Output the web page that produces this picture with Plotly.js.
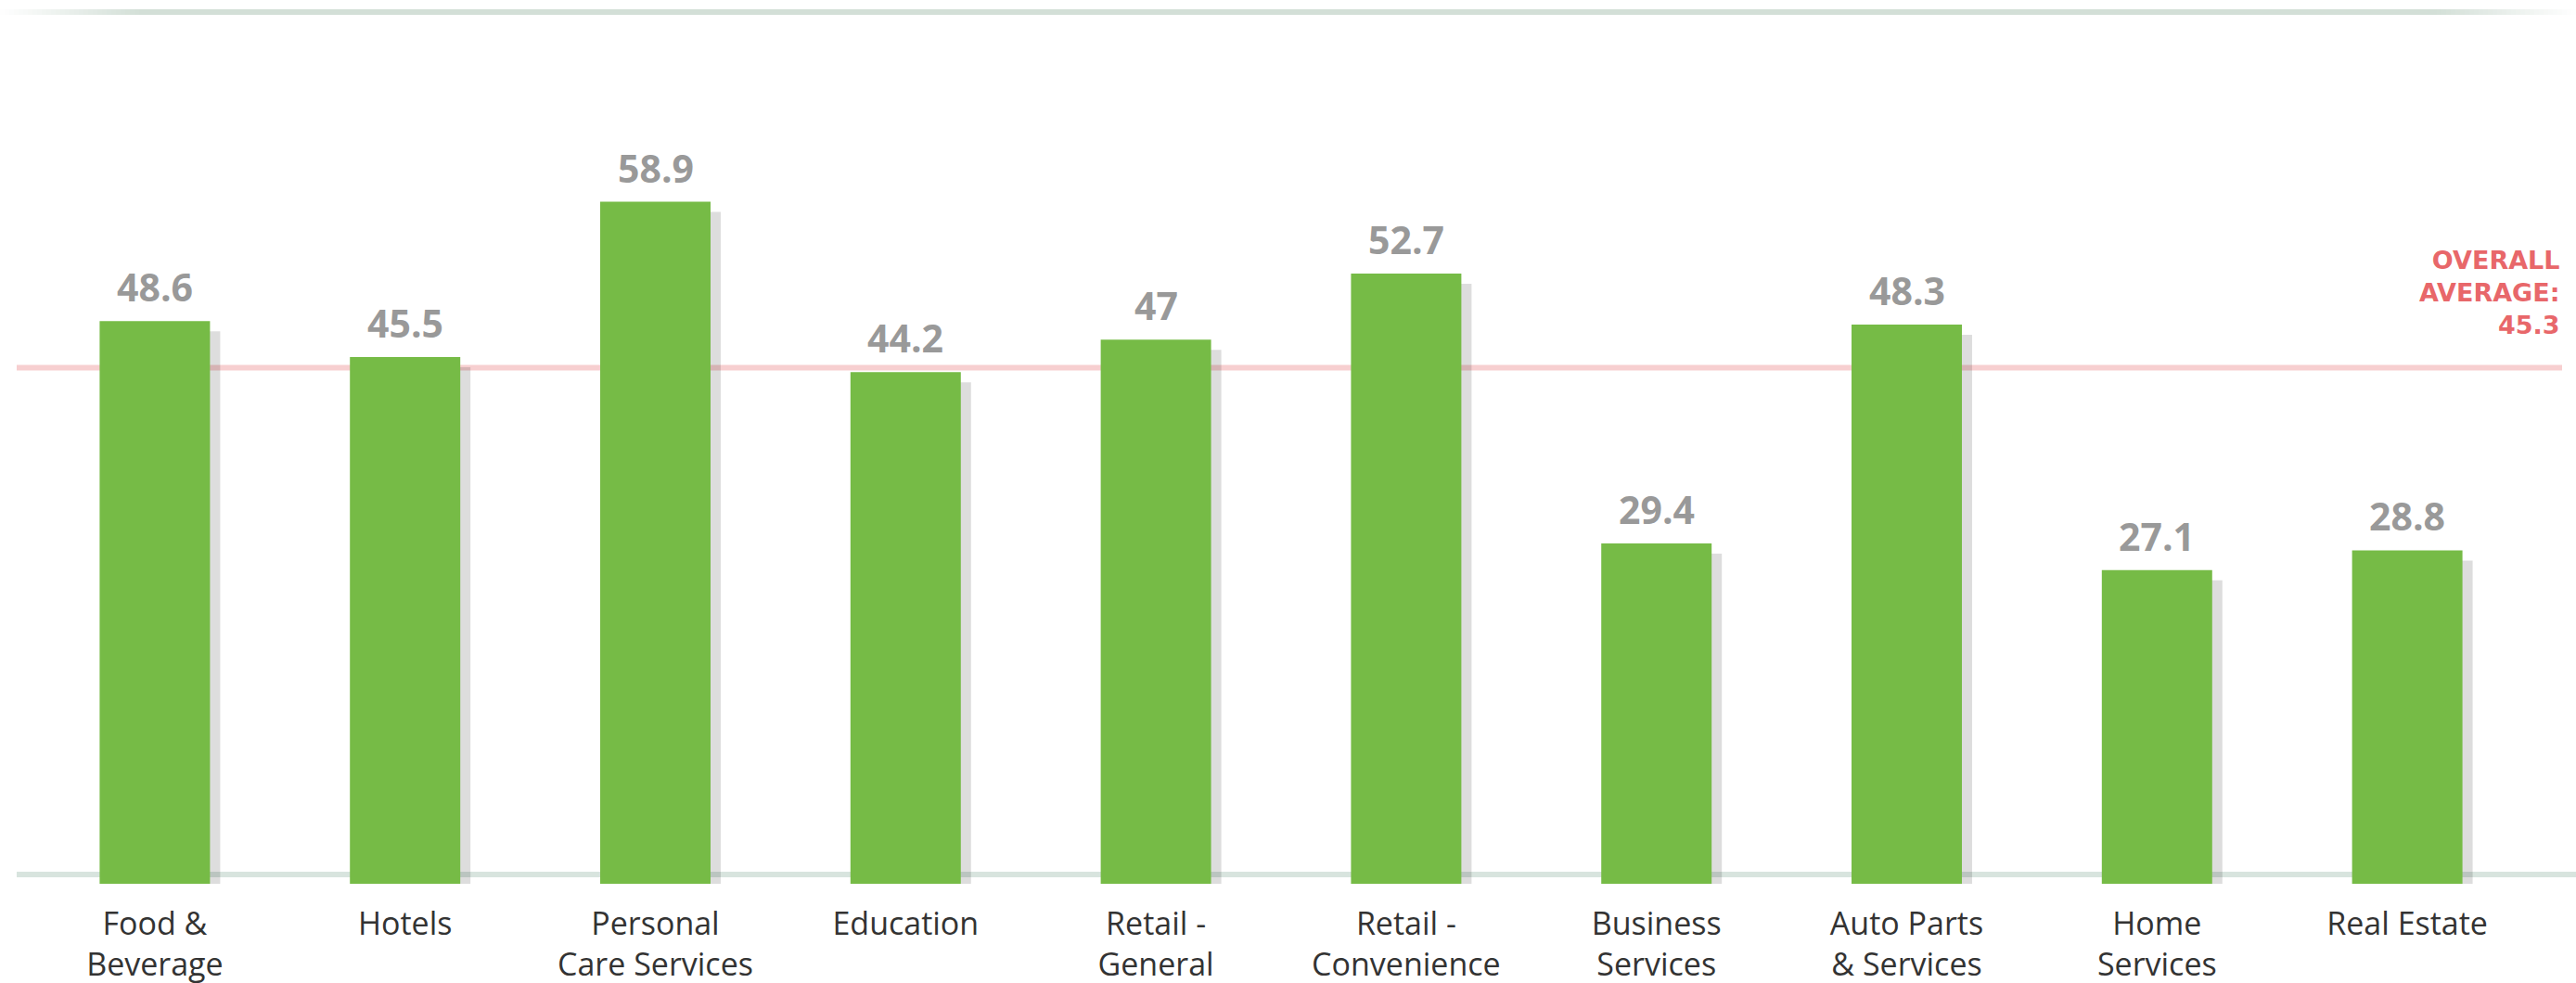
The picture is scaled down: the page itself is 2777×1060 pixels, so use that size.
<!DOCTYPE html>
<html>
<head>
<meta charset="utf-8">
<script src="https://cdn.plot.ly/plotly-3.0.1.min.js"></script>
<style>
  html, body { margin: 0; padding: 0; background: #ffffff; }
  #chart { width: 2777px; height: 1060px; }
</style>
</head>
<body>
<div id="chart"></div>
<script>
// ---- data ----
const categories = ["Food & Beverage", "Hotels", "Personal Care Services", "Education", "Retail - General",
  "Retail - Convenience", "Business Services", "Auto Parts & Services", "Home Services", "Real Estate"];
const tickLabels = ["Food &<br>Beverage", "Hotels", "Personal<br>Care Services", "Education", "Retail -<br>General",
  "Retail -<br>Convenience", "Business<br>Services", "Auto Parts<br>& Services", "Home<br>Services", "Real Estate"];
const values = [48.6, 45.5, 58.9, 44.2, 47, 52.7, 29.4, 48.3, 27.1, 28.8];
const overallAverage = 45.3;
const averageLabel = "OVERALL<br>AVERAGE:<br>" + overallAverage;

// ---- layout geometry ----
const W = 2777, H = 1060;
const mL = 32, mR = 47, mT = 79, mB = 107;
const plotW = W - mL - mR;
const plotH = H - mT - mB;
const barWidth = 0.441;
const pxPerCat = plotW / 10;
const pxPerUnit = plotH / 70;
const shadowDx = 11 / pxPerCat;
const shadowDy = 11 / pxPerUnit;
const px2paperX = p => (p - mL) / plotW;
const px2paperY = p => (H - mB - p) / plotH;

const green = "#76bb46";

const shadowTrace = {
  type: "bar",
  x: categories,
  y: values,
  base: values.map(() => -shadowDy),
  width: values.map(() => barWidth),
  offset: values.map(() => -barWidth / 2 + shadowDx),
  marker: { color: "rgba(0,0,0,0.135)", line: { width: 0 } },
  hoverinfo: "skip",
  cliponaxis: false,
  showlegend: false
};
const barTrace = {
  type: "bar",
  x: categories,
  y: values,
  width: values.map(() => barWidth),
  offset: values.map(() => -barWidth / 2),
  marker: { color: green, line: { width: 0 } },
  cliponaxis: false,
  showlegend: false
};

const shapes = [];
// baseline (just above zero)
shapes.push({
  type: "line", xref: "paper", yref: "y", ysizemode: "pixel", yanchor: 0,
  x0: px2paperX(18), x1: px2paperX(W), y0: 10, y1: 10,
  line: { color: "#d8e4de", width: 6 }, layer: "below"
});
// overall average line
shapes.push({
  type: "line", xref: "paper", yref: "y", ysizemode: "pixel", yanchor: overallAverage,
  x0: px2paperX(18), x1: px2paperX(2762), y0: -9, y1: -9,
  line: { color: "#f7cfd0", width: 6 }, layer: "below"
});
// top decorative rule with faded ends
const topY = px2paperY(13);
const fadeLen = 150, steps = 30;
const ruleColor = [211, 223, 215];
for (let i = 0; i < steps; i++) {
  const a = (i + 0.5) / steps;
  const col = "rgba(" + ruleColor.join(",") + "," + a.toFixed(3) + ")";
  const s = fadeLen / steps;
  shapes.push({ type: "line", xref: "paper", yref: "paper",
    x0: px2paperX(i * s), x1: px2paperX((i + 1) * s), y0: topY, y1: topY,
    line: { color: col, width: 6 }, layer: "below" });
  shapes.push({ type: "line", xref: "paper", yref: "paper",
    x0: px2paperX(W - (i + 1) * s), x1: px2paperX(W - i * s), y0: topY, y1: topY,
    line: { color: col, width: 6 }, layer: "below" });
}
shapes.push({ type: "line", xref: "paper", yref: "paper",
  x0: px2paperX(fadeLen), x1: px2paperX(W - fadeLen), y0: topY, y1: topY,
  line: { color: "rgb(" + ruleColor.join(",") + ")", width: 6 }, layer: "below" });

const annotations = categories.map((c, i) => ({
  x: c, y: values[i], xref: "x", yref: "y",
  text: String(values[i]),
  showarrow: false, yanchor: "bottom", xanchor: "center", yshift: 7,
  font: { family: "Open Sans", size: 41, color: "#999999", weight: 700 }
}));
annotations.push({
  x: px2paperX(2762), xref: "paper", xanchor: "right", align: "right",
  y: overallAverage, yref: "y", yanchor: "bottom", yshift: 19,
  text: averageLabel, showarrow: false,
  font: { family: "DejaVu Sans", size: 27, color: "#e8676a", weight: 700 }
});

const layout = {
  width: W, height: H,
  margin: { l: mL, r: mR, t: mT, b: mB, pad: 0 },
  paper_bgcolor: "#ffffff", plot_bgcolor: "#ffffff",
  barmode: "overlay",
  showlegend: false,
  xaxis: {
    type: "category", range: [-0.5, 9.5], fixedrange: true,
    tickvals: categories, ticktext: tickLabels,
    showgrid: false, zeroline: false, showline: false, ticks: "",
    ticklabelstandoff: 20,
    tickfont: { family: "Open Sans", size: 34, color: "#333333" }
  },
  yaxis: { range: [0, 70], visible: false, fixedrange: true, showgrid: false, zeroline: false },
  shapes: shapes,
  annotations: annotations
};

Plotly.newPlot("chart", [shadowTrace, barTrace], layout, { displayModeBar: false, staticPlot: true });
</script>
</body>
</html>
